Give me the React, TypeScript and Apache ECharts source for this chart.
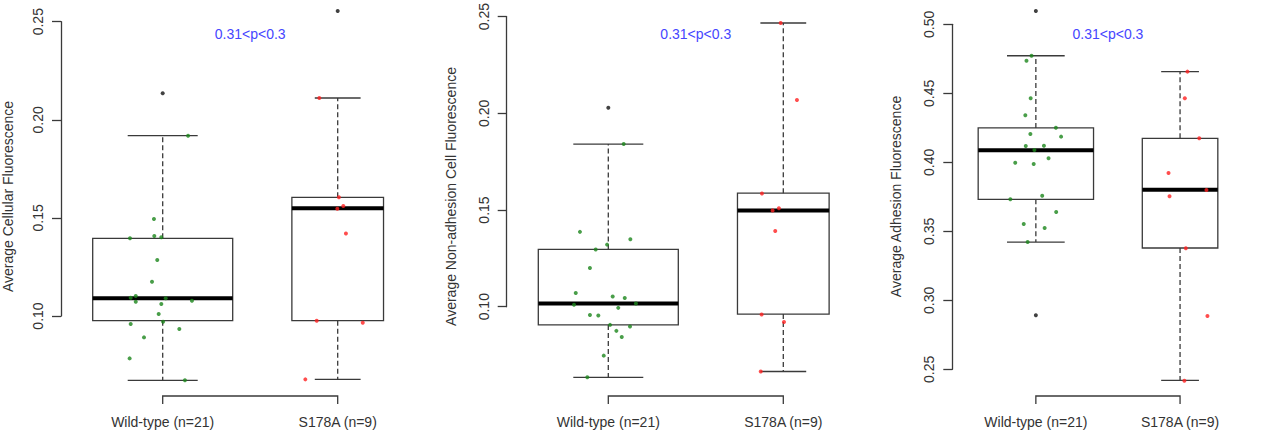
import { useEffect, useRef } from "react";
import * as echarts from "echarts";

// ---- shared labels ----
const groupLabels = ["Wild-type (n=21)", "S178A (n=9)"];
const groupSizes = [21, 9];
const pValueLabel = "0.31<p<0.3";

// Box statistics are [lower whisker, Q1, median, Q3, upper whisker].
// Points are [jitter offset from the group centre, value].

// ---- Average Cellular Fluorescence ----
const cellularTitle = "Average Cellular Fluorescence";
const cellularTicks = [0.1, 0.25];
const cellularWildStats = [0.0672, 0.0976, 0.109, 0.1396, 0.1919];
const cellularMutantStats = [0.0677, 0.0976, 0.1549, 0.1605, 0.2111];
const cellularWildOutliers = [0.2135];
const cellularMutantOutliers = [0.2555];
const cellularWildPoints = [
  [0.145, 0.1919], [-0.05, 0.1494], [-0.187, 0.1396], [-0.048, 0.1408],
  [-0.008, 0.1401], [-0.031, 0.1285], [-0.061, 0.1175], [-0.183, 0.1093],
  [-0.154, 0.1102], [-0.154, 0.1073], [0.017, 0.109], [0.167, 0.1078],
  [-0.008, 0.1061], [-0.023, 0.101], [0.002, 0.0971], [-0.183, 0.0959],
  [0.095, 0.0934], [-0.107, 0.0891], [-0.189, 0.0784], [0.127, 0.0672],
];
const cellularMutantPoints = [
  [-0.105, 0.2111], [0.007, 0.1605], [0.032, 0.1561], [-0.002, 0.1547],
  [0.047, 0.1421], [-0.12, 0.0976], [0.143, 0.0966], [-0.185, 0.0677],
];

// ---- Average Non-adhesion Cell Fluorescence ----
const nonAdhesionTitle = "Average Non-adhesion Cell Fluorescence";
const nonAdhesionTicks = [0.1, 0.25];
const nonAdhesionWildStats = [0.0635, 0.0906, 0.1017, 0.1296, 0.1841];
const nonAdhesionMutantStats = [0.0665, 0.0962, 0.1498, 0.1587, 0.2467];
const nonAdhesionWildOutliers = [0.2029];
const nonAdhesionMutantOutliers: number[] = [];
const nonAdhesionWildPoints = [
  [0.088, 0.1841], [-0.162, 0.1387], [0.126, 0.1349], [-0.007, 0.1321],
  [-0.072, 0.1296], [-0.105, 0.12], [-0.186, 0.1071], [0.025, 0.1053],
  [0.094, 0.1045], [-0.196, 0.101], [0.158, 0.1017], [0.057, 0.0994],
  [-0.105, 0.0957], [-0.057, 0.0954], [0.01, 0.0906], [0.124, 0.0898],
  [0.046, 0.0875], [0.077, 0.0843], [-0.026, 0.0747], [-0.12, 0.0635],
];
const nonAdhesionMutantPoints = [
  [-0.015, 0.2467], [0.078, 0.2069], [-0.122, 0.1585], [-0.025, 0.1509],
  [-0.061, 0.1498], [-0.046, 0.1391], [-0.124, 0.096], [0.004, 0.0921],
  [-0.129, 0.0665],
];

// ---- Average Adhesion Fluorescence ----
const adhesionTitle = "Average Adhesion Fluorescence";
const adhesionTicks = [0.25, 0.5];
const adhesionWildStats = [0.3422, 0.3732, 0.4087, 0.4249, 0.4772];
const adhesionMutantStats = [0.242, 0.3379, 0.3801, 0.4174, 0.4657];
const adhesionWildOutliers = [0.5097, 0.2891];
const adhesionMutantOutliers: number[] = [];
const adhesionWildPoints = [
  [-0.03, 0.4772], [-0.065, 0.4736], [-0.036, 0.4464], [-0.073, 0.4341],
  [0.139, 0.4251], [-0.038, 0.4205], [0.175, 0.4186], [-0.07, 0.4118],
  [0.056, 0.412], [-0.01, 0.4089], [0.088, 0.4029], [-0.143, 0.3997],
  [-0.015, 0.3988], [0.044, 0.3758], [-0.177, 0.3732], [0.141, 0.364],
  [-0.084, 0.3553], [0.061, 0.3524], [-0.057, 0.3422],
];
const adhesionMutantPoints = [
  [0.051, 0.4657], [0.033, 0.4464], [0.133, 0.4174], [-0.08, 0.3922],
  [0.183, 0.3799], [-0.073, 0.3754], [0.04, 0.3377], [0.19, 0.2886],
  [0.03, 0.2417],
];

const panels = [
  {
    title: cellularTitle, ticks: cellularTicks,
    stats: [cellularWildStats, cellularMutantStats],
    outliers: [cellularWildOutliers, cellularMutantOutliers],
    points: [cellularWildPoints, cellularMutantPoints],
  },
  {
    title: nonAdhesionTitle, ticks: nonAdhesionTicks,
    stats: [nonAdhesionWildStats, nonAdhesionMutantStats],
    outliers: [nonAdhesionWildOutliers, nonAdhesionMutantOutliers],
    points: [nonAdhesionWildPoints, nonAdhesionMutantPoints],
  },
  {
    title: adhesionTitle, ticks: adhesionTicks,
    stats: [adhesionWildStats, adhesionMutantStats],
    outliers: [adhesionWildOutliers, adhesionMutantOutliers],
    points: [adhesionWildPoints, adhesionMutantPoints],
  },
];

// ---- layout (pixels) ----
const panelLayouts = [
  { left: 61, firstCenter: 162.7, top: 21.7, bottom: 316, titleX: 8 },
  { left: 506.7, firstCenter: 608.3, top: 3.3, bottom: 306.7, titleX: 451 },
  { left: 952.3, firstCenter: 1053.7, top: 24.3, bottom: 369.3, titleX: 896 },
];
const UNIT_PX = 175;
const X_MAX = 2.7;
const BRACKET_Y = 396;
const BRACKET_TICK = 8;
const GROUP_LABEL_Y = 422.7;
const P_LABEL_Y = 34.3;
const TITLE_Y = 196.5;
const FONT = "'Liberation Sans', Arial, Helvetica, sans-serif";
const FONT_SIZE = 14;
const INK = "#3a3a3a";
const TEXT = "#333333";
const WILD_COLOR = "#1c861c";
const MUTANT_COLOR = "#ff2020";
const P_COLOR = "#4646ff";

function boxHalfWidth(n: number) {
  const maxN = Math.max(...groupSizes);
  return 0.4 * Math.sqrt(n / maxN);
}

function buildOption() {
  const grid: any[] = [];
  const xAxis: any[] = [];
  const yAxis: any[] = [];
  const series: any[] = [];
  const graphic: any[] = [];

  panels.forEach((panel, i) => {
    const lay = panelLayouts[i];
    const xMin = 1 - (lay.firstCenter - lay.left) / UNIT_PX;
    const width = (X_MAX - xMin) * UNIT_PX;
    grid.push({
      left: lay.left,
      top: lay.top,
      width,
      height: lay.bottom - lay.top,
      containLabel: false,
    });
    xAxis.push({
      gridIndex: i,
      type: "value",
      min: xMin,
      max: X_MAX,
      axisLine: { show: false },
      axisTick: { show: false },
      splitLine: { show: false },
      axisLabel: {
        customValues: [1, 2],
        formatter: (v: number) => groupLabels[Math.round(v) - 1] ?? "",
        margin: GROUP_LABEL_Y - lay.bottom - 8,
        color: TEXT,
        fontSize: FONT_SIZE,
        fontFamily: FONT,
      },
    });
    yAxis.push({
      gridIndex: i,
      type: "value",
      min: panel.ticks[0],
      max: panel.ticks[1],
      interval: 0.05,
      axisLine: { show: true, lineStyle: { color: INK, width: 1.3 } },
      axisTick: { show: true, length: 9, lineStyle: { color: INK, width: 1.3 } },
      splitLine: { show: false },
      axisLabel: {
        rotate: 90,
        margin: 16,
        alignMinLabel: "center",
        alignMaxLabel: "center",
        color: TEXT,
        fontSize: FONT_SIZE,
        fontFamily: FONT,
        formatter: (v: number) => v.toFixed(2),
      },
    });

    // boxes with dashed whiskers
    const boxData = panel.stats.map((s, g) => [g + 1, ...s, boxHalfWidth(groupSizes[g])]);
    series.push({
      type: "custom",
      xAxisIndex: i,
      yAxisIndex: i,
      clip: false,
      z: 2,
      data: boxData,
      encode: { x: 0, y: [1, 2, 3, 4, 5] },
      renderItem: (_p: any, api: any) => {
        const x = api.value(0);
        const lo = api.value(1);
        const q1 = api.value(2);
        const med = api.value(3);
        const q3 = api.value(4);
        const hi = api.value(5);
        const hw = api.value(6);
        const tl = api.coord([x - hw, q3]);
        const br = api.coord([x + hw, q1]);
        const c = api.coord([x, med]);
        const yLo = api.coord([x, lo])[1];
        const yHi = api.coord([x, hi])[1];
        const capL = api.coord([x - hw / 2, lo])[0];
        const capR = api.coord([x + hw / 2, lo])[0];
        const solid = { stroke: INK, lineWidth: 1.3, fill: "none" };
        const dashed = { stroke: INK, lineWidth: 1.3, lineDash: [5, 3] };
        return {
          type: "group",
          children: [
            { type: "line", shape: { x1: c[0], y1: tl[1], x2: c[0], y2: yHi }, style: dashed },
            { type: "line", shape: { x1: c[0], y1: br[1], x2: c[0], y2: yLo }, style: dashed },
            { type: "line", shape: { x1: capL, y1: yHi, x2: capR, y2: yHi }, style: solid },
            { type: "line", shape: { x1: capL, y1: yLo, x2: capR, y2: yLo }, style: solid },
            {
              type: "rect",
              shape: { x: tl[0], y: tl[1], width: br[0] - tl[0], height: br[1] - tl[1] },
              style: solid,
            },
            { type: "line", shape: { x1: tl[0], y1: c[1], x2: br[0], y2: c[1] }, style: { stroke: "#000", lineWidth: 4 } },
          ],
        };
      },
    });

    // bracket between groups and the p-value note
    series.push({
      type: "custom",
      xAxisIndex: i,
      yAxisIndex: i,
      clip: false,
      z: 2,
      data: [[1, 2]],
      encode: { x: [0, 1] },
      renderItem: (_p: any, api: any) => {
        const yRef = panel.ticks[0];
        const xa = api.coord([api.value(0), yRef])[0];
        const xb = api.coord([api.value(1), yRef])[0];
        return {
          type: "group",
          children: [
            {
              type: "polyline",
              shape: {
                points: [
                  [xa, BRACKET_Y + BRACKET_TICK],
                  [xa, BRACKET_Y],
                  [xb, BRACKET_Y],
                  [xb, BRACKET_Y + BRACKET_TICK],
                ],
              },
              style: { stroke: INK, lineWidth: 1.3, fill: "none" },
            },
            {
              type: "text",
              style: {
                text: pValueLabel,
                x: (xa + xb) / 2,
                y: P_LABEL_Y,
                align: "center",
                verticalAlign: "middle",
                fill: P_COLOR,
                fontSize: FONT_SIZE,
                fontFamily: FONT,
              },
            },
          ],
        };
      },
    });

    // jittered observations
    const colors = [WILD_COLOR, MUTANT_COLOR];
    panel.points.forEach((pts, g) => {
      series.push({
        type: "scatter",
        xAxisIndex: i,
        yAxisIndex: i,
        clip: false,
        z: 4,
        symbol: "circle",
        symbolSize: 4,
        itemStyle: { color: colors[g] },
        data: pts.map(([dx, v]) => [g + 1 + dx, v]),
      });
    });

    // outliers
    series.push({
      type: "scatter",
      xAxisIndex: i,
      yAxisIndex: i,
      clip: false,
      z: 3,
      symbol: "circle",
      symbolSize: 4,
      itemStyle: { color: "#111" },
      data: panel.outliers.flatMap((vals, g) => vals.map((v) => [g + 1, v])),
    });

    graphic.push({
      type: "text",
      x: lay.titleX,
      y: TITLE_Y,
      rotation: Math.PI / 2,
      style: {
        text: panel.title,
        align: "center",
        verticalAlign: "middle",
        fill: TEXT,
        fontSize: FONT_SIZE,
        fontFamily: FONT,
      },
    });
  });

  return {
    animation: false,
    backgroundColor: "#ffffff",
    grid,
    xAxis,
    yAxis,
    series,
    graphic,
  };
}

export default function App() {
  const ref = useRef<HTMLDivElement>(null);
  useEffect(() => {
    if (!ref.current) return;
    const chart = echarts.init(ref.current, undefined, { renderer: "svg" });
    chart.setOption(buildOption() as any);
    return () => chart.dispose();
  }, []);
  return (
    <div
      ref={ref}
      style={{ position: "fixed", left: 0, top: 0, width: 1281, height: 440, background: "#fff" }}
    />
  );
}
